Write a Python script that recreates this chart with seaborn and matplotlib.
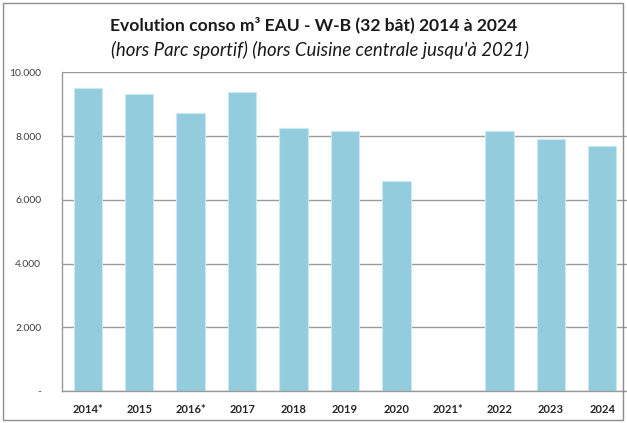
import numpy as np
import pandas as pd
import matplotlib
matplotlib.use("Agg")
import matplotlib.pyplot as plt
import seaborn as sns
from matplotlib.patches import Rectangle

# ---------------------------------------------------------------
# data (m3 water per year, 2021 missing)
# ---------------------------------------------------------------
YEARS = ["2014*", "2015", "2016*", "2017", "2018", "2019", "2020",
         "2021*", "2022", "2023", "2024"]
CONSO = [9500, 9310, 8715, 9390, 8240, 8150, 6600,
         np.nan, 8150, 7900, 7690]
Y_TICKS = [0, 2000, 4000, 6000, 8000, 10000]
Y_LABELS = ["-", "2.000", "4.000", "6.000", "8.000", "10.000"]

TITLE = "Evolution conso m³ EAU - W-B (32 bât) 2014 à 2024"
SUBTITLE = "(hors Parc sportif) (hors Cuisine centrale jusqu'à 2021)"

sns.set_style("white")
plt.rcParams["font.family"] = ["Lato", "DejaVu Sans"]

df = pd.DataFrame({"annee": YEARS, "conso": CONSO})

fig = plt.figure(figsize=(6.27, 4.23), dpi=100)
ax = fig.add_axes([62 / 627, 1 - 391 / 423, 566 / 627, (391 - 72.3) / 423])

sns.barplot(data=df, x="annee", y="conso", order=YEARS, color="#93CDDD",
            saturation=1, width=0.55, edgecolor="#c9e8f0", linewidth=0.8,
            errorbar=None, ax=ax)

ax.set_ylim(0, 10000)
ax.set_xlim(-0.5, 10.5)
ax.set_yticks(Y_TICKS)
ax.set_yticklabels(Y_LABELS)
ax.yaxis.grid(True, color="#9a9a9a", linewidth=1)
ax.set_axisbelow(True)
ax.set_xlabel("")
ax.set_ylabel("")

# ticks between categories (Excel style)
ax.set_xticks(np.arange(-0.5, 11, 1), minor=True)
ax.tick_params(axis="x", which="major", length=0, pad=9, labelsize=8)
ax.tick_params(axis="x", which="minor", length=4, color="#9a9a9a", direction="out")
ax.tick_params(axis="y", length=5, color="#9a9a9a", direction="out",
               labelsize=7.5, pad=10, labelcolor="#404040")
for lab in ax.get_xticklabels():
    lab.set_fontweight("bold")
    lab.set_color("#262626")

for side in ["top", "right"]:
    ax.spines[side].set_visible(False)
for side in ["left", "bottom"]:
    ax.spines[side].set_color("#9a9a9a")
    ax.spines[side].set_linewidth(1)

fig.text(0.5, 1 - 25 / 423, TITLE, ha="center", va="center",
         fontsize=12.6, fontweight="bold", color="#1a1a1a")
fig.text(0.51, 1 - 50 / 423, SUBTITLE, ha="center", va="center",
         fontsize=13.4, fontstyle="italic", color="#1a1a1a")

# outer frame
fig.patches.append(Rectangle((3 / 627, 3 / 423), 620 / 627, 417 / 423,
                             transform=fig.transFigure, fill=False,
                             edgecolor="#8c8c8c", linewidth=1))

fig.savefig("out.png", dpi=100)
